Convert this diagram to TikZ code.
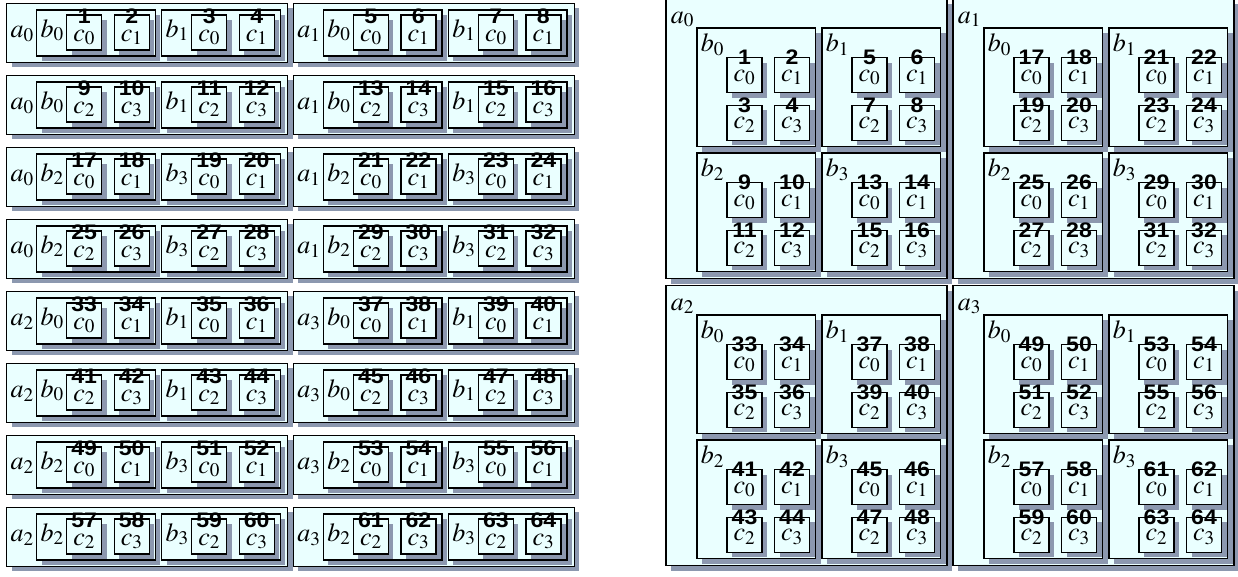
\documentclass[tikz,border=0pt]{standalone}
\usepackage{mathptmx}
\usepackage{fontspec}
\newfontfamily\numfont{Liberation Sans}
\usetikzlibrary{shadows}
\definecolor{cellfill}{HTML}{EAFFFF}
\definecolor{shadowgray}{HTML}{8C98AF}

\begin{document}
\begin{tikzpicture}[x=1pt, y=-1pt,
  box/.style={draw=black, line width=1.3pt, fill=cellfill, anchor=north west,
    inner sep=0pt, outer sep=0pt,
    drop shadow={shadow xshift=5pt, shadow yshift=-5pt, fill=shadowgray, opacity=1}},
  cbox/.style={box, minimum size=35pt},
  lbl/.style={anchor=base, inner sep=0pt, font=\fontsize{26}{26}\selectfont},
  num/.style={inner sep=0pt, xscale=1.1, font=\numfont\bfseries\fontsize{21}{21}\selectfont}]
  \useasboundingbox (0,0) rectangle (1238,576);

  % Left panel: one row per (a,b-pair,c-pair)
  \foreach \row in {0,...,7} {
    \foreach \col in {0,1} {
      \pgfmathtruncatemacro\ai{\col+2*int(\row/4)}
      \pgfmathsetmacro\ax{6.7+286.7*\col}
      \pgfmathsetmacro\ay{3.3+72*\row}
      \node[box, minimum width=281pt, minimum height=59pt] (La-\row-\col) at (\ax,\ay) {};
      \node[lbl] (La-\row-\col-l) at ([shift={(15.5,34)}]La-\row-\col.north west) {$a_{\ai}$};
      \foreach \bb in {0,1} {
        \pgfmathtruncatemacro\bi{\bb+2*mod(int(\row/2),2)}
        \node[box, minimum width=118.5pt, minimum height=46pt] (Lb-\row-\col-\bb)
          at ([shift={(30+125*\bb,6.7)}]La-\row-\col.north west) {};
        \node[lbl] (Lb-\row-\col-\bb-l) at ([shift={(15.5,27)}]Lb-\row-\col-\bb.north west) {$b_{\bi}$};
        \foreach \cc in {0,1} {
          \pgfmathtruncatemacro\ci{\cc+2*mod(\row,2)}
          \pgfmathtruncatemacro\n{1+8*\row+4*\col+2*\bb+\cc}
          \node[cbox] (Lc-\row-\col-\bb-\cc) at ([shift={(30+47.5*\cc,5)}]Lb-\row-\col-\bb.north west) {};
          \node[lbl] (Lc-\row-\col-\bb-\cc-l) at ([yshift=-26pt]Lc-\row-\col-\bb-\cc.north) {$c_{\ci}$};
          \node[num] (Ln-\row-\col-\bb-\cc) at ([yshift=-1pt]Lc-\row-\col-\bb-\cc.north) {\n};
        }
      }
    }
  }

  % Right panel: nested 2x2 grids
  \foreach \ia in {0,...,3} {
    \pgfmathsetmacro\ax{666+287*mod(\ia,2)}
    \pgfmathsetmacro\ay{-1.5+287*int(\ia/2)}
    \node[box, minimum width=281pt, minimum height=280pt] (Ra-\ia) at (\ax,\ay) {};
    \node[lbl] (Ra-\ia-l) at ([shift={(16.5,24.5)}]Ra-\ia.north west) {$a_{\ia}$};
    \foreach \ib in {0,...,3} {
      \pgfmathsetmacro\bx{31+125*mod(\ib,2)}
      \pgfmathsetmacro\by{29.5+125*int(\ib/2)}
      \node[box, minimum size=118.5pt] (Rb-\ia-\ib)
        at ([shift={(\bx,\by)}]Ra-\ia.north west) {};
      \node[lbl] (Rb-\ia-\ib-l) at ([shift={(15.5,23.5)}]Rb-\ia-\ib.north west) {$b_{\ib}$};
      \foreach \ic in {0,...,3} {
        \pgfmathtruncatemacro\n{1+16*\ia+4*\ib+\ic}
        \pgfmathsetmacro\cx{30+47.5*mod(\ic,2)}
        \pgfmathsetmacro\cy{29.5+47.8*int(\ic/2)}
        \node[cbox] (Rc-\ia-\ib-\ic)
          at ([shift={(\cx,\cy)}]Rb-\ia-\ib.north west) {};
        \node[lbl] (Rc-\ia-\ib-\ic-l) at ([yshift=-23.5pt]Rc-\ia-\ib-\ic.north) {$c_{\ic}$};
        \node[num] (Rn-\ia-\ib-\ic) at (Rc-\ia-\ib-\ic.north) {\n};
      }
    }
  }
\end{tikzpicture}
\end{document}
